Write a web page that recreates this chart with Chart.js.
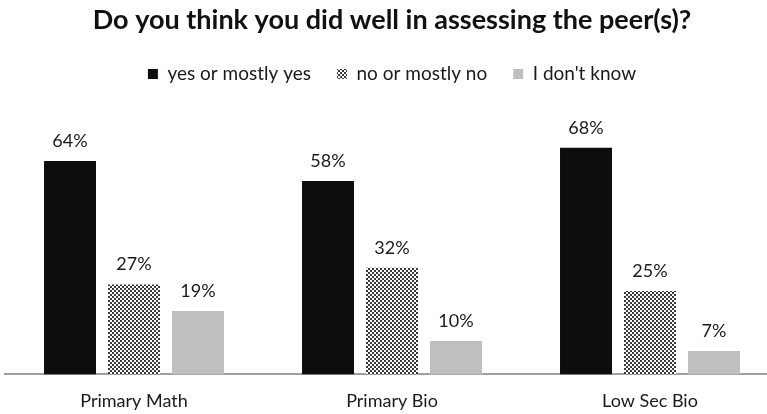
<!DOCTYPE html>
<html>
<head>
<meta charset="utf-8">
<script src="https://cdn.jsdelivr.net/npm/chart.js@4"></script>
<style>
  html, body { margin: 0; padding: 0; background: #fff; overflow: hidden; }
  #wrap { position: relative; width: 784px; height: 414px; }
</style>
</head>
<body>
<div id="wrap"><canvas id="peerChart" width="784" height="414"></canvas></div>
<script>
// chart data
const categories = ['Primary Math', 'Primary Bio', 'Low Sec Bio'];
const seriesNames = ['yes or mostly yes', 'no or mostly no', "I don't know"];
const yesValues = [64, 58, 68];
const noValues = [27, 32, 25];
const dontKnowValues = [19, 10, 7];

const FONT = 'Lato';

// small checker pattern for the "no" series
function makeChecker() {
    const c = document.createElement('canvas');
    c.width = 4; c.height = 4;
    const g = c.getContext('2d');
    g.fillStyle = '#ffffff';
    g.fillRect(0, 0, 4, 4);
    g.fillStyle = '#3a3a3a';
    g.fillRect(0, 0, 2, 2);
    g.fillRect(2, 2, 2, 2);
    return g.createPattern(c, 'repeat');
}
const checker = makeChecker();

// draws the "64%" style labels above each bar
const valueLabels = {
    id: 'valueLabels',
    afterDatasetsDraw(chart) {
        const ctx = chart.ctx;
        ctx.save();
        ctx.font = '18px ' + FONT;
        ctx.fillStyle = '#1a1a1a';
        ctx.textAlign = 'center';
        ctx.textBaseline = 'alphabetic';
        chart.data.datasets.forEach((ds, i) => {
            chart.getDatasetMeta(i).data.forEach((bar, j) => {
                ctx.fillText(ds.data[j] + '%', bar.x, bar.y - 14);
            });
        });
        ctx.restore();
    }
};

const barStyle = {
    barPercentage: 0.8125,
    categoryPercentage: 0.744,
    borderWidth: 0
};

new Chart(document.getElementById('peerChart').getContext('2d'), {
    type: 'bar',
    data: {
        labels: categories,
        datasets: [
            { label: seriesNames[0], data: yesValues, backgroundColor: '#0d0d0d', ...barStyle },
            { label: seriesNames[1], data: noValues, backgroundColor: checker, ...barStyle },
            { label: seriesNames[2], data: dontKnowValues, backgroundColor: '#bfbfbf', ...barStyle }
        ]
    },
    options: {
        responsive: false,
        animation: false,
        devicePixelRatio: 1,
        layout: { padding: { left: 5, right: 5, top: 0, bottom: -14 } },
        plugins: {
            title: {
                display: true,
                text: 'Do you think you did well in assessing the peer(s)?',
                color: '#111111',
                font: { family: FONT, size: 27, weight: 'bold' },
                padding: { top: 4, bottom: 2 }
            },
            legend: {
                display: true,
                labels: {
                    color: '#1a1a1a',
                    font: { family: FONT, size: 19 },
                    boxWidth: 10,
                    boxHeight: 10,
                    padding: 26
                }
            },
            tooltip: { enabled: false }
        },
        scales: {
            x: {
                grid: { display: false, drawTicks: false },
                border: { display: true, color: '#a0a0a0', width: 2 },
                ticks: { color: '#1a1a1a', font: { family: FONT, size: 18 }, padding: 16 }
            },
            y: {
                display: false,
                min: 0,
                max: 84.3
            }
        }
    },
    plugins: [valueLabels]
});
</script>
</body>
</html>
